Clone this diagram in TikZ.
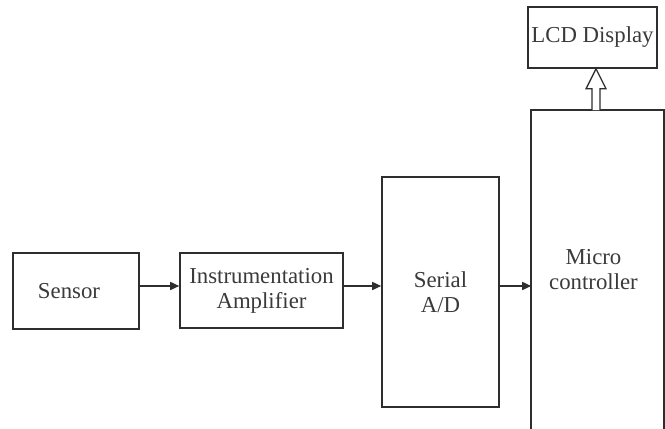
\documentclass[tikz,border=0pt]{standalone}
\usepackage{fontspec}
\setmainfont{Liberation Serif}
\usetikzlibrary{arrows.meta,calc}
\definecolor{linec}{HTML}{2E2E2E}
\definecolor{txtc}{HTML}{3A3A3A}
\begin{document}
\begin{tikzpicture}[x=1pt,y=-1pt,
  blk/.style={draw=linec, line width=1.6pt, text=txtc, font=\fontsize{22.8}{25}\selectfont, align=center, inner sep=0pt},
  conn/.style={draw=linec, line width=1.6pt, -{Triangle[length=9pt,width=8pt]}},
  hollow/.style={draw=linec, line width=1.3pt, fill=white, line join=miter}]
\useasboundingbox (0,0) rectangle (665,429);
\node[blk, minimum width=126pt, minimum height=76pt] (sensor) at (76,291) {Sensor\hspace*{14pt}};
\node[blk, minimum width=163pt, minimum height=75pt] (amp) at (261.5,290.5) {Instrumentation\\Amplifier};
\node[blk, minimum width=117pt, minimum height=230pt] (adc) at (440.5,292) {Serial\\A/D};
\node[blk, draw=none, minimum width=131pt, minimum height=318pt] (micro) at (597.5,270) {Micro\hspace*{8pt}\\controller\hspace*{8pt}};
\draw[linec, line width=1.6pt] (micro.south west) -- (micro.north west) -- (micro.north east) -- (micro.south east);
\node[blk, minimum width=129pt, minimum height=61pt] (lcd) at (592.5,37.5) {LCD Display};
\coordinate (lvl) at (0,286);
\draw[conn] (sensor.east |- lvl) -- (amp.west |- lvl);
\draw[conn] (amp.east |- lvl) -- (adc.west |- lvl);
\draw[conn] (adc.east |- lvl) -- (micro.west |- lvl);
\coordinate (tip) at ($(micro.north |- lcd.south)+(-1.5,0)$);
\draw[hollow] ($(micro.north)+(-5.5,0)$) -- ($(tip)+(-4,20)$) -- ($(tip)+(-10,20)$) -- (tip) -- ($(tip)+(10,20)$) -- ($(tip)+(4,20)$) -- ($(micro.north)+(2.5,0)$);
\end{tikzpicture}
\end{document}
